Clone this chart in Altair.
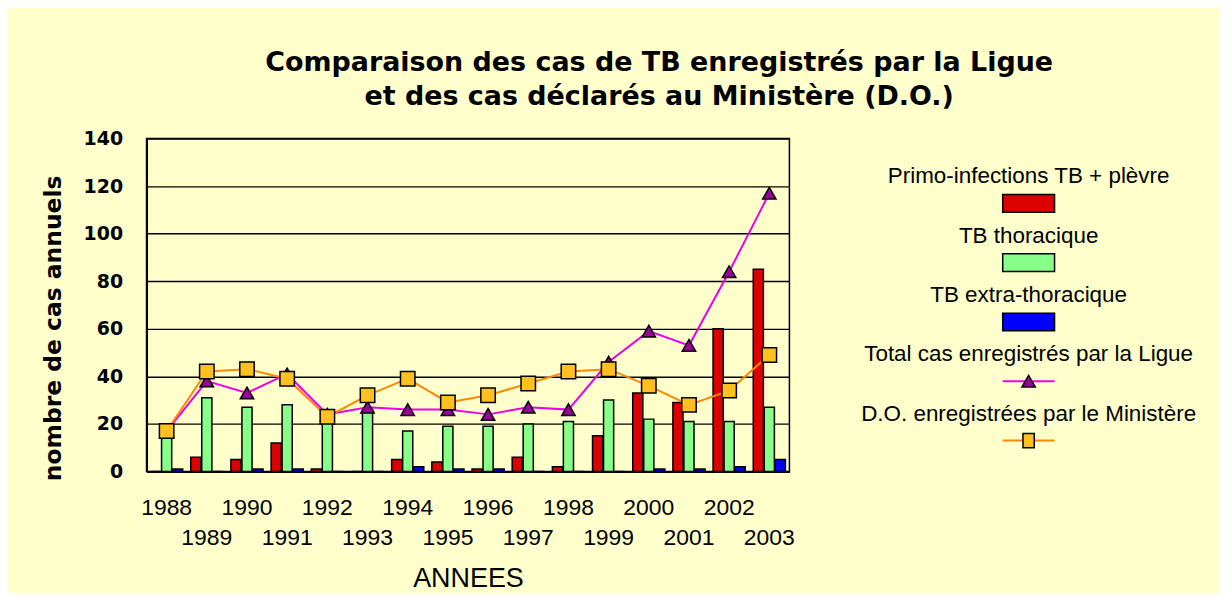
import altair as alt
import pandas as pd

years = list(range(1988, 2004))
primo = [0, 6, 5, 12, 1, 0, 5, 4, 1, 6, 2, 15, 33, 29, 60, 85]
thoracique = [16, 31, 27, 28, 22, 26, 17, 19, 19, 20, 21, 30, 22, 21, 21, 27]
extra = [1, 0, 1, 1, 0, 0, 2, 1, 1, 0, 0, 0, 1, 1, 2, 5]
total_ligue = [17, 38, 33, 41, 24, 27, 26, 26, 24, 27, 26, 46, 59, 53, 84, 117]
do_ministere = [17, 42, 43, 39, 23, 32, 39, 29, 32, 37, 42, 43, 36, 28, 34, 49]

series = ["Primo-infections TB + plèvre", "TB thoracique", "TB extra-thoracique"]
bar_colors = ["#DD0000", "#88FF88", "#0000FF"]
line_names = ["Total cas enregistrés par la Ligue", "D.O. enregistrées par le Ministère"]

BG = "#FFFFCC"

bars_df = pd.DataFrame(
    [{"year": y, "series": s, "value": v}
     for s, vals in zip(series, [primo, thoracique, extra])
     for y, v in zip(years, vals)]
)
lines_df = pd.DataFrame({"year": years, "total": total_ligue, "do": do_ministere})

xscale = alt.Scale(paddingInner=0.2, paddingOuter=0.1)
x_enc = alt.X(
    "year:O",
    scale=xscale,
    title="ANNEES",
    axis=alt.Axis(
        labelAngle=0,
        labelExpr="datum.value % 2 == 0 ? [datum.label, ''] : ['', datum.label]",
        labelLineHeight=30,
        labelFont="Liberation Sans",
        labelFontSize=23,
        labelColor="black",
        labelPadding=25,
        ticks=False,
        tickSize=0,
        domainColor="black",
        domainWidth=2,
        titleFont="Liberation Sans",
        titleFontSize=27,
        titleFontWeight="normal",
        titleColor="black",
        titlePadding=16,
    ),
)
y_enc_axis = alt.Axis(
    values=[0, 20, 40, 60, 80, 100, 120, 140],
    labelFont="DejaVu Sans",
    labelFontWeight="bold",
    labelFontSize=19,
    labelColor="black",
    labelPadding=24,
    ticks=False,
    tickSize=0,
    domainColor="black",
    domainWidth=2,
    grid=True,
    gridColor="black",
    gridWidth=1.4,
    title="nombre de cas annuels",
    titleFont="DejaVu Sans",
    titleFontWeight="bold",
    titleFontSize=23.5,
    titleColor="black",
    titlePadding=18,
    titleY=190,
)
yscale = alt.Scale(domain=[0, 140], nice=False)

bars = alt.Chart(bars_df).mark_bar(stroke="black", strokeWidth=1.5).encode(
    x=x_enc,
    xOffset=alt.XOffset("series:N", sort=series, scale=alt.Scale(paddingInner=0.08)),
    y=alt.Y("value:Q", scale=yscale, axis=y_enc_axis),
    color=alt.Color("series:N", sort=series,
                    scale=alt.Scale(domain=series, range=bar_colors), legend=None),
)

base_line = alt.Chart(lines_df).encode(x=alt.X("year:O", scale=xscale))
total_line = base_line.mark_line(color="#EE00EE", strokeWidth=2).encode(
    y=alt.Y("total:Q", scale=yscale))
total_pts = base_line.mark_point(shape="triangle-up", filled=True, fill="#990099",
                                 stroke="black", strokeWidth=1.5, size=180, opacity=1).encode(
    y=alt.Y("total:Q", scale=yscale))
do_line = base_line.mark_line(color="#FF8800", strokeWidth=2).encode(
    y=alt.Y("do:Q", scale=yscale))
do_pts = base_line.mark_point(shape="square", filled=True, fill="#FFC020",
                              stroke="black", strokeWidth=1.5, size=210, opacity=1).encode(
    y=alt.Y("do:Q", scale=yscale))

main = alt.layer(bars, total_line, total_pts, do_line, do_pts).properties(
    width=645, height=334,
    view=alt.ViewBackground(fill=BG, stroke="black", strokeWidth=1.5),
)

# Legend panel
leg_names = series + line_names
leg_df = pd.DataFrame({
    "name": leg_names,
    "idx": list(range(len(leg_names))),
    "kind": ["bar", "bar", "bar", "tri", "sq"],
    "color": bar_colors + ["#EE00EE", "#FF8800"],
})
leg_df["sym"] = leg_df["idx"] + 0.454
leg_df["xc"] = 0.5

lx = alt.X("xc:Q", scale=alt.Scale(domain=[0, 1]), axis=None)
ly_scale = alt.Scale(domain=[-0.639, 4.974], reverse=True, nice=False, zero=False)
leg_base = alt.Chart(leg_df)

leg_text = leg_base.mark_text(font="Liberation Sans", fontSize=22.5, color="black",
                              align="center", baseline="middle").encode(
    x=lx, y=alt.Y("idx:Q", scale=ly_scale, axis=None), text="name:N")
leg_rect = leg_base.transform_filter("datum.kind == 'bar'").mark_point(
    shape="M-1,-0.34L1,-0.34L1,0.34L-1,0.34Z", size=2704, filled=True,
    stroke="black", strokeWidth=1.5, opacity=1).encode(
    x=lx, y=alt.Y("sym:Q", scale=ly_scale, axis=None),
    fill=alt.Fill("color:N", scale=None))
leg_lines = leg_base.transform_filter("datum.kind != 'bar'").mark_point(
    shape="M-1,0L1,0", size=2704, filled=False, strokeWidth=2, opacity=1).encode(
    x=lx, y=alt.Y("sym:Q", scale=ly_scale, axis=None),
    stroke=alt.Stroke("color:N", scale=None))
leg_tri = leg_base.transform_filter("datum.kind == 'tri'").mark_point(
    shape="triangle-up", filled=True, fill="#990099", stroke="black",
    strokeWidth=1.5, size=180, opacity=1).encode(
    x=lx, y=alt.Y("sym:Q", scale=ly_scale, axis=None))
leg_sq = leg_base.transform_filter("datum.kind == 'sq'").mark_point(
    shape="M-0.8,-1L0.8,-1L0.8,1L-0.8,1Z", filled=True, fill="#FFC020", stroke="black",
    strokeWidth=1.5, size=200, opacity=1).encode(
    x=lx, y=alt.Y("sym:Q", scale=ly_scale, axis=None))

legend = alt.layer(leg_text, leg_rect, leg_lines, leg_tri, leg_sq).properties(
    width=380, height=334,
    view=alt.ViewBackground(fill=BG, stroke="transparent", strokeWidth=0),
)

chart = alt.hconcat(main, legend, spacing=44).properties(
    title=alt.TitleParams(
        text=["Comparaison des cas de TB enregistrés par la Ligue",
              "et des cas déclarés au Ministère (D.O.)"],
        font="DejaVu Sans", fontSize=27, fontWeight="bold", color="black",
        lineHeight=34, anchor="middle", offset=18, dx=30,
    ),
    background=BG,
    padding={"left": 32, "top": 40, "right": 2, "bottom": 0},
).resolve_scale(x="independent", y="independent")

chart.save("out.html", embed_options={"renderer": "svg", "actions": False})
